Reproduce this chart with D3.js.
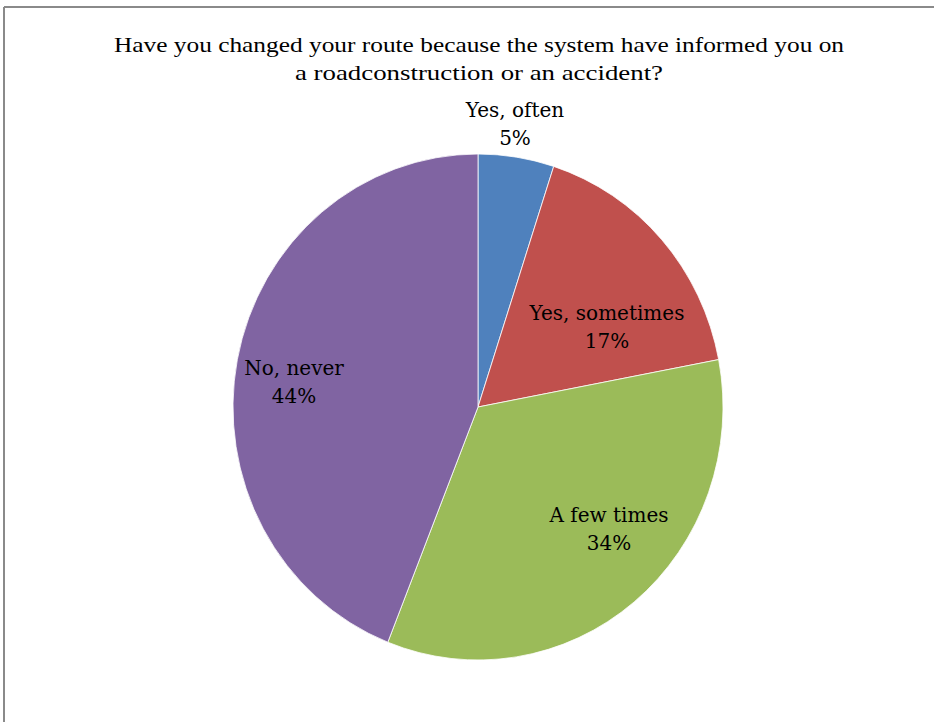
<!DOCTYPE html>
<html>
<head>
<meta charset="utf-8">
<script src="https://cdn.jsdelivr.net/npm/d3@7"></script>
<style>
  body { margin: 0; background: #fff; }
  text { font-family: "DejaVu Serif", "Liberation Serif", serif; fill: #000; }
</style>
</head>
<body>
<div class="container"></div>
<script>
var w = 934;
var h = 722;

var titleLines = ["Have you changed your route because the system have informed you on",
                  "a roadconstruction or an accident?"];
var categories = ["Yes, often", "Yes, sometimes", "A few times", "No, never"];
var values = [5, 17, 34, 44];
var colors = ["#4F81BD", "#C0504D", "#9BBB59", "#8064A2"];

var data = categories.map((c, i) => ({ name: c, value: values[i] }));

var svg = d3.select('.container')
    .append('svg')
    .attr('width', w)
    .attr('height', h);

// frame (only top and left edges visible)
svg.append('line')
    .attr('x1', 4).attr('y1', 7).attr('x2', w).attr('y2', 7)
    .style('stroke', '#8a8a8a').style('stroke-width', 2);
svg.append('line')
    .attr('x1', 4).attr('y1', 7).attr('x2', 4).attr('y2', h)
    .style('stroke', '#8a8a8a').style('stroke-width', 2);

var titleWidths = [730, 368];
svg.append('g').selectAll('text')
    .data(titleLines)
    .enter()
    .append('text')
    .attr('text-anchor', 'middle')
    .style('font-family', '"Liberation Serif", serif')
    .style('font-size', '22px')
    .attr('x', 479)
    .attr('y', (d, i) => 52 + i * 28)
    .attr('textLength', (d, i) => titleWidths[i])
    .attr('lengthAdjust', 'spacingAndGlyphs')
    .text(d => d);

var cx = 478, cy = 407, r = 253, sx = 245 / 253;

var pie = d3.pie()
    .sort(null)
    .value(d => d.value);

var arc = d3.arc()
    .innerRadius(0)
    .outerRadius(r);

var g = svg.append('g')
    .attr('transform', 'translate(' + cx + ',' + cy + ') scale(' + sx + ',1)');

g.selectAll('path')
    .data(pie(data))
    .enter()
    .append('path')
    .attr('d', arc)
    .style('fill', (d, i) => colors[i])
    .style('stroke', '#fff')
    .style('stroke-width', 0.8);

// label positions (x offset from centre, y offset from centre)
var labelPos = [[37, -290], [129, -87], [131, 115], [-184, -32]];

var labels = svg.append('g');
labels.selectAll('text')
    .data(data)
    .enter()
    .append('text')
    .attr('text-anchor', 'middle')
    .style('font-size', '20px')
    .each(function(d, i) {
      var t = d3.select(this);
      t.append('tspan')
        .attr('x', cx + labelPos[i][0])
        .attr('y', cy + labelPos[i][1])
        .text(d.name);
      t.append('tspan')
        .attr('x', cx + labelPos[i][0])
        .attr('y', cy + labelPos[i][1] + 28)
        .text(d.value + '%');
    });
</script>
</body>
</html>
